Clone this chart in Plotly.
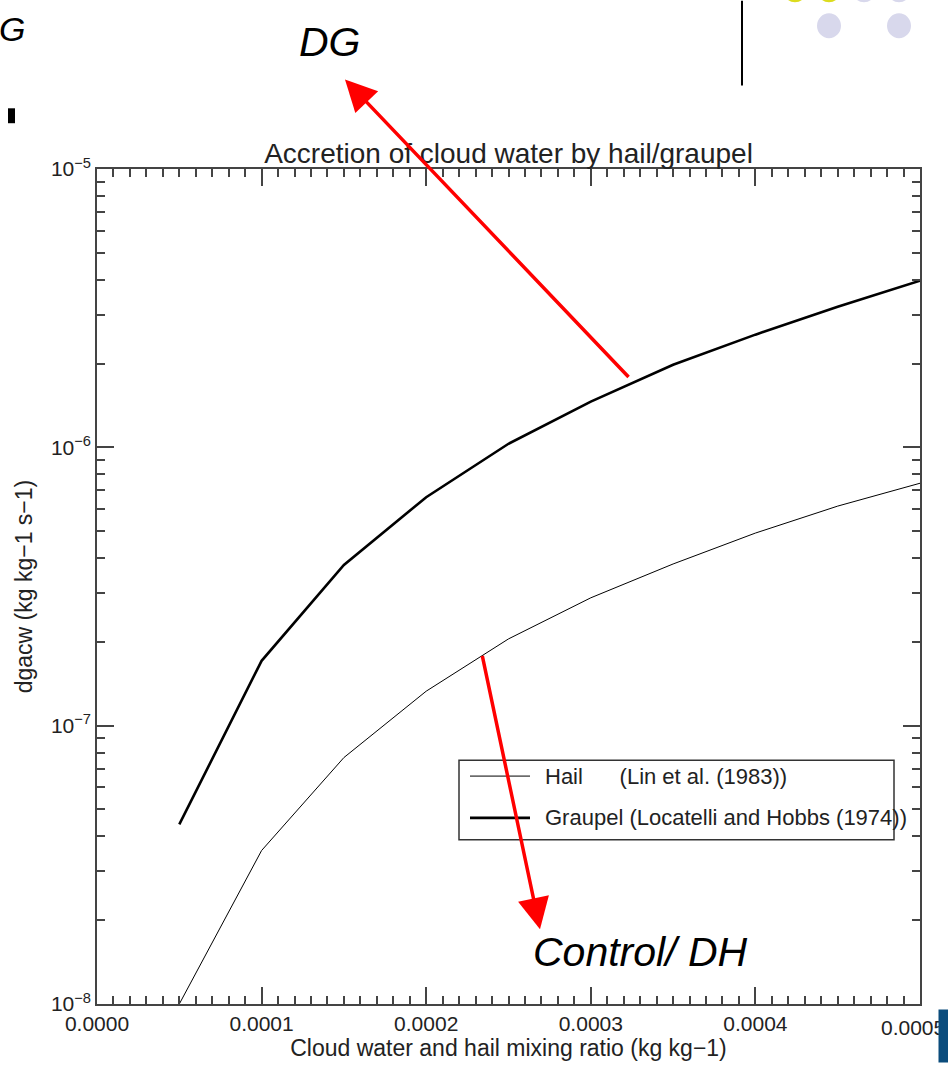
import plotly.graph_objects as go

# ---- data ----
mixing_ratio = [0.00005, 0.00010, 0.00015, 0.00020, 0.00025, 0.00030, 0.00035, 0.00040, 0.00045, 0.00050]
hail_dgacw = [1.0e-8, 3.56e-8, 7.68e-8, 1.33e-7, 2.05e-7, 2.88e-7, 3.81e-7, 4.92e-7, 6.15e-7, 7.43e-7]
graupel_dgacw = [4.42e-8, 1.71e-7, 3.78e-7, 6.62e-7, 1.03e-6, 1.46e-6, 1.98e-6, 2.54e-6, 3.20e-6, 3.97e-6]
series_names = ["Hail      (Lin et al. (1983))", "Graupel (Locatelli and Hobbs (1974))"]
x_tick_vals = [0.0, 0.0001, 0.0002, 0.0003, 0.0004, 0.0005]
x_tick_text = ["0.0000", "0.0001", "0.0002", "0.0003", "0.0004", "0.0005"]
decades = [-8, -7, -6, -5]

W, H = 948, 1065
L, R, T, B = 97, 920, 169, 1008
PW, PH = R - L, B - T


def px(xp):
    return (xp - L) / PW


def py(yp):
    return (B - yp) / PH


FONT = "Liberation Sans, Arial, sans-serif"
AX = "#444444"
TICKFONT = dict(family=FONT, size=21, color="#222")

fig = go.Figure()
fig.add_trace(go.Scatter(x=mixing_ratio, y=hail_dgacw, mode="lines", name=series_names[0],
                         line=dict(color="black", width=1), showlegend=False))
fig.add_trace(go.Scatter(x=mixing_ratio, y=graupel_dgacw, mode="lines", name=series_names[1],
                         line=dict(color="black", width=2.6), showlegend=False))

minor_y = [k * 10.0 ** d for d in decades[:-1] for k in range(2, 10)]
minor_x = [i * 0.00001 for i in range(0, 51) if i % 10 != 0]

# last x label is drawn as an annotation (it runs off the page edge, under the blue bar)
fig.update_xaxes(
    range=[0, 0.0005], tickmode="array", tickvals=x_tick_vals, ticktext=x_tick_text[:-1] + [""],
    ticks="inside", ticklen=17, tickwidth=1.5, tickcolor=AX,
    showline=True, linecolor=AX, linewidth=1.5, mirror="ticks",
    showgrid=False, zeroline=False,
    tickfont=TICKFONT,
    minor=dict(tickmode="array", tickvals=minor_x, ticks="inside", ticklen=8,
               tickwidth=1.5, tickcolor=AX, showgrid=False),
    title=dict(text="Cloud water and hail mixing ratio (kg kg\u22121)",
               font=dict(family=FONT, size=23, color="#222"), standoff=2),
)
fig.update_yaxes(
    type="log", range=[-8, -5], tickmode="array", tickvals=[10.0 ** d for d in decades],
    ticktext=["10<sup>\u2212%d</sup>" % (-d) for d in decades],
    ticks="inside", ticklen=17, tickwidth=1.5, tickcolor=AX,
    showline=True, linecolor=AX, linewidth=1.5, mirror="ticks",
    showgrid=False, zeroline=False,
    tickfont=TICKFONT,
    minor=dict(tickmode="array", tickvals=minor_y, ticks="inside", ticklen=8,
               tickwidth=1.5, tickcolor=AX, showgrid=False),
    title=dict(text="dgacw (kg kg\u22121 s\u22121)",
               font=dict(family=FONT, size=23, color="#222"), standoff=12),
)

shapes = []
annotations = []

# legend box drawn by hand (text overflows the box as in the original)
shapes.append(dict(type="rect", xref="paper", yref="paper", x0=px(459), x1=px(894),
                   y0=py(843), y1=py(763), line=dict(color="#333", width=1.5)))
shapes.append(dict(type="line", xref="paper", yref="paper", x0=px(470), x1=px(530),
                   y0=py(779), y1=py(779), line=dict(color="black", width=1)))
shapes.append(dict(type="line", xref="paper", yref="paper", x0=px(470), x1=px(530),
                   y0=py(821), y1=py(821), line=dict(color="black", width=2.6)))
for name, yp in zip(series_names, [779, 821]):
    annotations.append(dict(xref="paper", yref="paper", x=px(543), y=py(yp), text=name.replace(" ", "\u00a0"),
                            showarrow=False, xanchor="left", yanchor="middle",
                            font=dict(family=FONT, size=22, color="#222")))

# slide decorations
shapes.append(dict(type="line", xref="paper", yref="paper", x0=px(742), x1=px(742),
                   y0=py(0), y1=py(85), line=dict(color="black", width=2)))
for cx, cy, col in [(795, -11, "#DCDC1E"), (829, -11, "#DCDC1E"), (864, -11, "#D8D8EC"), (899, -11, "#D8D8EC"),
                    (829, 25, "#D8D8EC"), (899, 25, "#D8D8EC")]:
    shapes.append(dict(type="circle", xref="paper", yref="paper", x0=px(cx - 12), x1=px(cx + 12),
                       y0=py(cy + 12.5), y1=py(cy - 12.5), fillcolor=col, line=dict(width=0)))
shapes.append(dict(type="rect", xref="paper", yref="paper", x0=px(8), x1=px(15), y0=py(123), y1=py(108),
                   fillcolor="black", line=dict(width=0)))

annotations.append(dict(xref="paper", yref="paper", x=px(-3), y=py(28), text="<i>G</i>", showarrow=False,
                        xanchor="left", yanchor="middle", font=dict(family=FONT, size=34, color="black")))
annotations.append(dict(xref="paper", yref="paper", x=px(330), y=py(41), text="<i>DG</i>", showarrow=False,
                        xanchor="center", yanchor="middle", font=dict(family=FONT, size=41, color="black")))
annotations.append(dict(xref="paper", yref="paper", x=px(640), y=py(956), text="<i>Control/ DH</i>", showarrow=False,
                        xanchor="center", yanchor="middle", font=dict(family=FONT, size=41, color="black")))

# last x tick label, then the blue bar covering its end
annotations.append(dict(xref="paper", yref="paper", x=px(947), y=py(1032), text=x_tick_text[-1], showarrow=False,
                        xanchor="right", yanchor="middle", font=TICKFONT))
annotations.append(dict(xref="paper", yref="paper", x=px(938), y=py(1013), text=" ", showarrow=False,
                        xanchor="left", yanchor="top", width=10, height=52, borderpad=0,
                        bgcolor="#0B4C7C", font=dict(size=2)))

# red arrows
annotations.append(dict(xref="paper", yref="paper", x=px(345), y=py(79), ax=630 - 345, ay=378 - 79,
                        text="", showarrow=True, arrowhead=2, arrowsize=1.8, arrowwidth=3.5, arrowcolor="#FF0000"))
annotations.append(dict(xref="paper", yref="paper", x=px(540), y=py(933), ax=482 - 540, ay=658 - 933,
                        text="", showarrow=True, arrowhead=2, arrowsize=1.8, arrowwidth=3.5, arrowcolor="#FF0000"))

fig.update_layout(
    width=W, height=H,
    margin=dict(l=L, r=W - R, t=T, b=H - B),
    paper_bgcolor="white", plot_bgcolor="white",
    title=dict(text="Accretion of cloud water by hail/graupel", x=0.5, xref="paper",
               y=1 - 153 / H, yanchor="middle", font=dict(family=FONT, size=28, color="#222")),
    shapes=shapes, annotations=annotations,
)

fig.write_html(
    "out.html",
    config={"displayModeBar": False},
    post_script="document.body.style.margin='0';document.body.style.overflow='hidden';",
)
